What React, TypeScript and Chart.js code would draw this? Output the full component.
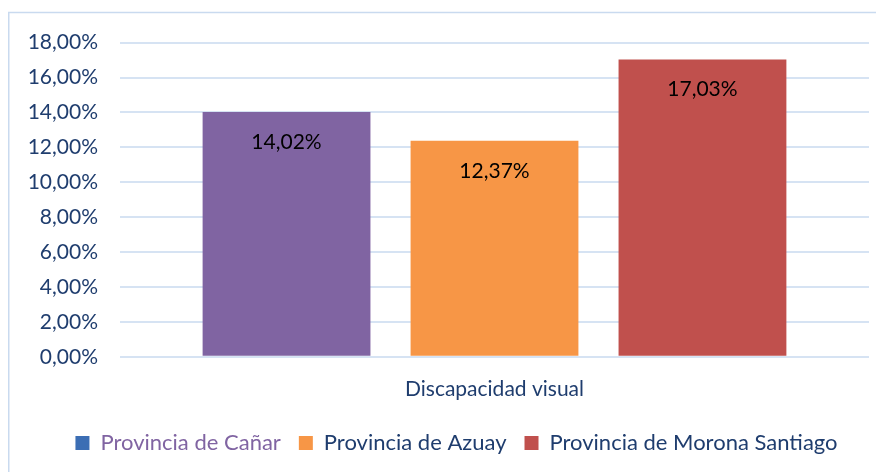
import React, { useEffect, useRef } from "react";
import { Chart, registerables } from "chart.js";

Chart.register(...registerables);

const categories = ["Discapacidad visual"];
const seriesNames = ["Provincia de Cañar", "Provincia de Azuay", "Provincia de Morona Santiago"];
const seriesValues = [[14.02], [12.37], [17.03]];
const seriesColors = ["#8064A2", "#F79646", "#C0504D"];
const legendBoxColors = ["#3C6EB4", "#F79646", "#C0504D"];
const legendTextColors = ["#8064A2", "#1F3D6E", "#1F3D6E"];
const yTicks = [0, 2, 4, 6, 8, 10, 12, 14, 16, 18];

const fmt = (v: number) => v.toFixed(2).replace(".", ",") + "%";
const FONT = "Lato, 'Open Sans', sans-serif";

export default function App() {
  const ref = useRef<HTMLCanvasElement | null>(null);
  useEffect(() => {
    if (!ref.current) return;
    const borderPlugin = {
      id: "frame",
      afterLayout(chart: any) {
        if (chart.legend) {
          chart.legend.left += 18;
          chart.legend.right += 18;
        }
      },
      beforeDraw(chart: any) {
        const ctx = chart.ctx;
        ctx.save();
        ctx.strokeStyle = "#C9DAEF";
        ctx.lineWidth = 1.5;
        ctx.strokeRect(0.75, 4.5, chart.width + 10, chart.height + 10);
        ctx.restore();
      },
    };
    const labelPlugin = {
      id: "vals",
      afterDatasetsDraw(chart: any) {
        const ctx = chart.ctx;
        ctx.save();
        ctx.font = `21px ${FONT}`;
        ctx.fillStyle = "#000";
        ctx.textAlign = "center";
        ctx.textBaseline = "middle";
        chart.data.datasets.forEach((ds: any, i: number) => {
          const meta = chart.getDatasetMeta(i);
          meta.data.forEach((el: any, j: number) => {
            ctx.fillText(fmt(ds.data[j]), el.x, el.y + 30);
          });
        });
        ctx.restore();
      },
    };
    const chart = new Chart(ref.current, {
      type: "bar",
      data: {
        labels: categories,
        datasets: seriesNames.map((n, i) => ({
          label: n,
          data: seriesValues[i],
          backgroundColor: seriesColors[i],
          categoryPercentage: 0.833,
          barPercentage: 0.807,
        })),
      },
      options: {
        animation: false,
        responsive: true,
        maintainAspectRatio: false,
        layout: { padding: { top: 21, right: 7, left: 0, bottom: 8 } },
        scales: {
          y: {
            min: 0,
            max: 18,
            afterBuildTicks(axis: any) {
              axis.ticks = yTicks.map((v) => ({ value: v }));
            },
            afterFit(axis: any) {
              axis.width = 112;
            },
            ticks: {
              callback: (v: any) => fmt(Number(v)),
              color: "#1F3D6E",
              font: { family: FONT, size: 21 },
              padding: 22,
            },
            grid: { color: "#D6E3F3", lineWidth: 2, drawTicks: false },
            border: { display: false },
          },
          x: {
            ticks: { color: "#1F3D6E", font: { family: FONT, size: 21 }, padding: 12 },
            grid: { display: false },
            border: { display: false },
          },
        },
        plugins: {
          tooltip: { enabled: false },
          legend: {
            position: "bottom",
            labels: {
              font: { family: FONT, size: 22 },
              boxWidth: 14,
              boxHeight: 14,
              padding: 18,
              generateLabels: () =>
                seriesNames.map((n, i) => ({
                  text: n,
                  fillStyle: legendBoxColors[i],
                  strokeStyle: legendBoxColors[i],
                  lineWidth: 0,
                  fontColor: legendTextColors[i],
                  datasetIndex: i,
                  hidden: false,
                })),
            },
          },
        },
      },
      plugins: [borderPlugin, labelPlugin],
    });
    return () => chart.destroy();
  }, []);
  return (
    <div style={{ width: 868, height: 464 }}>
      <canvas ref={ref} />
    </div>
  );
}
